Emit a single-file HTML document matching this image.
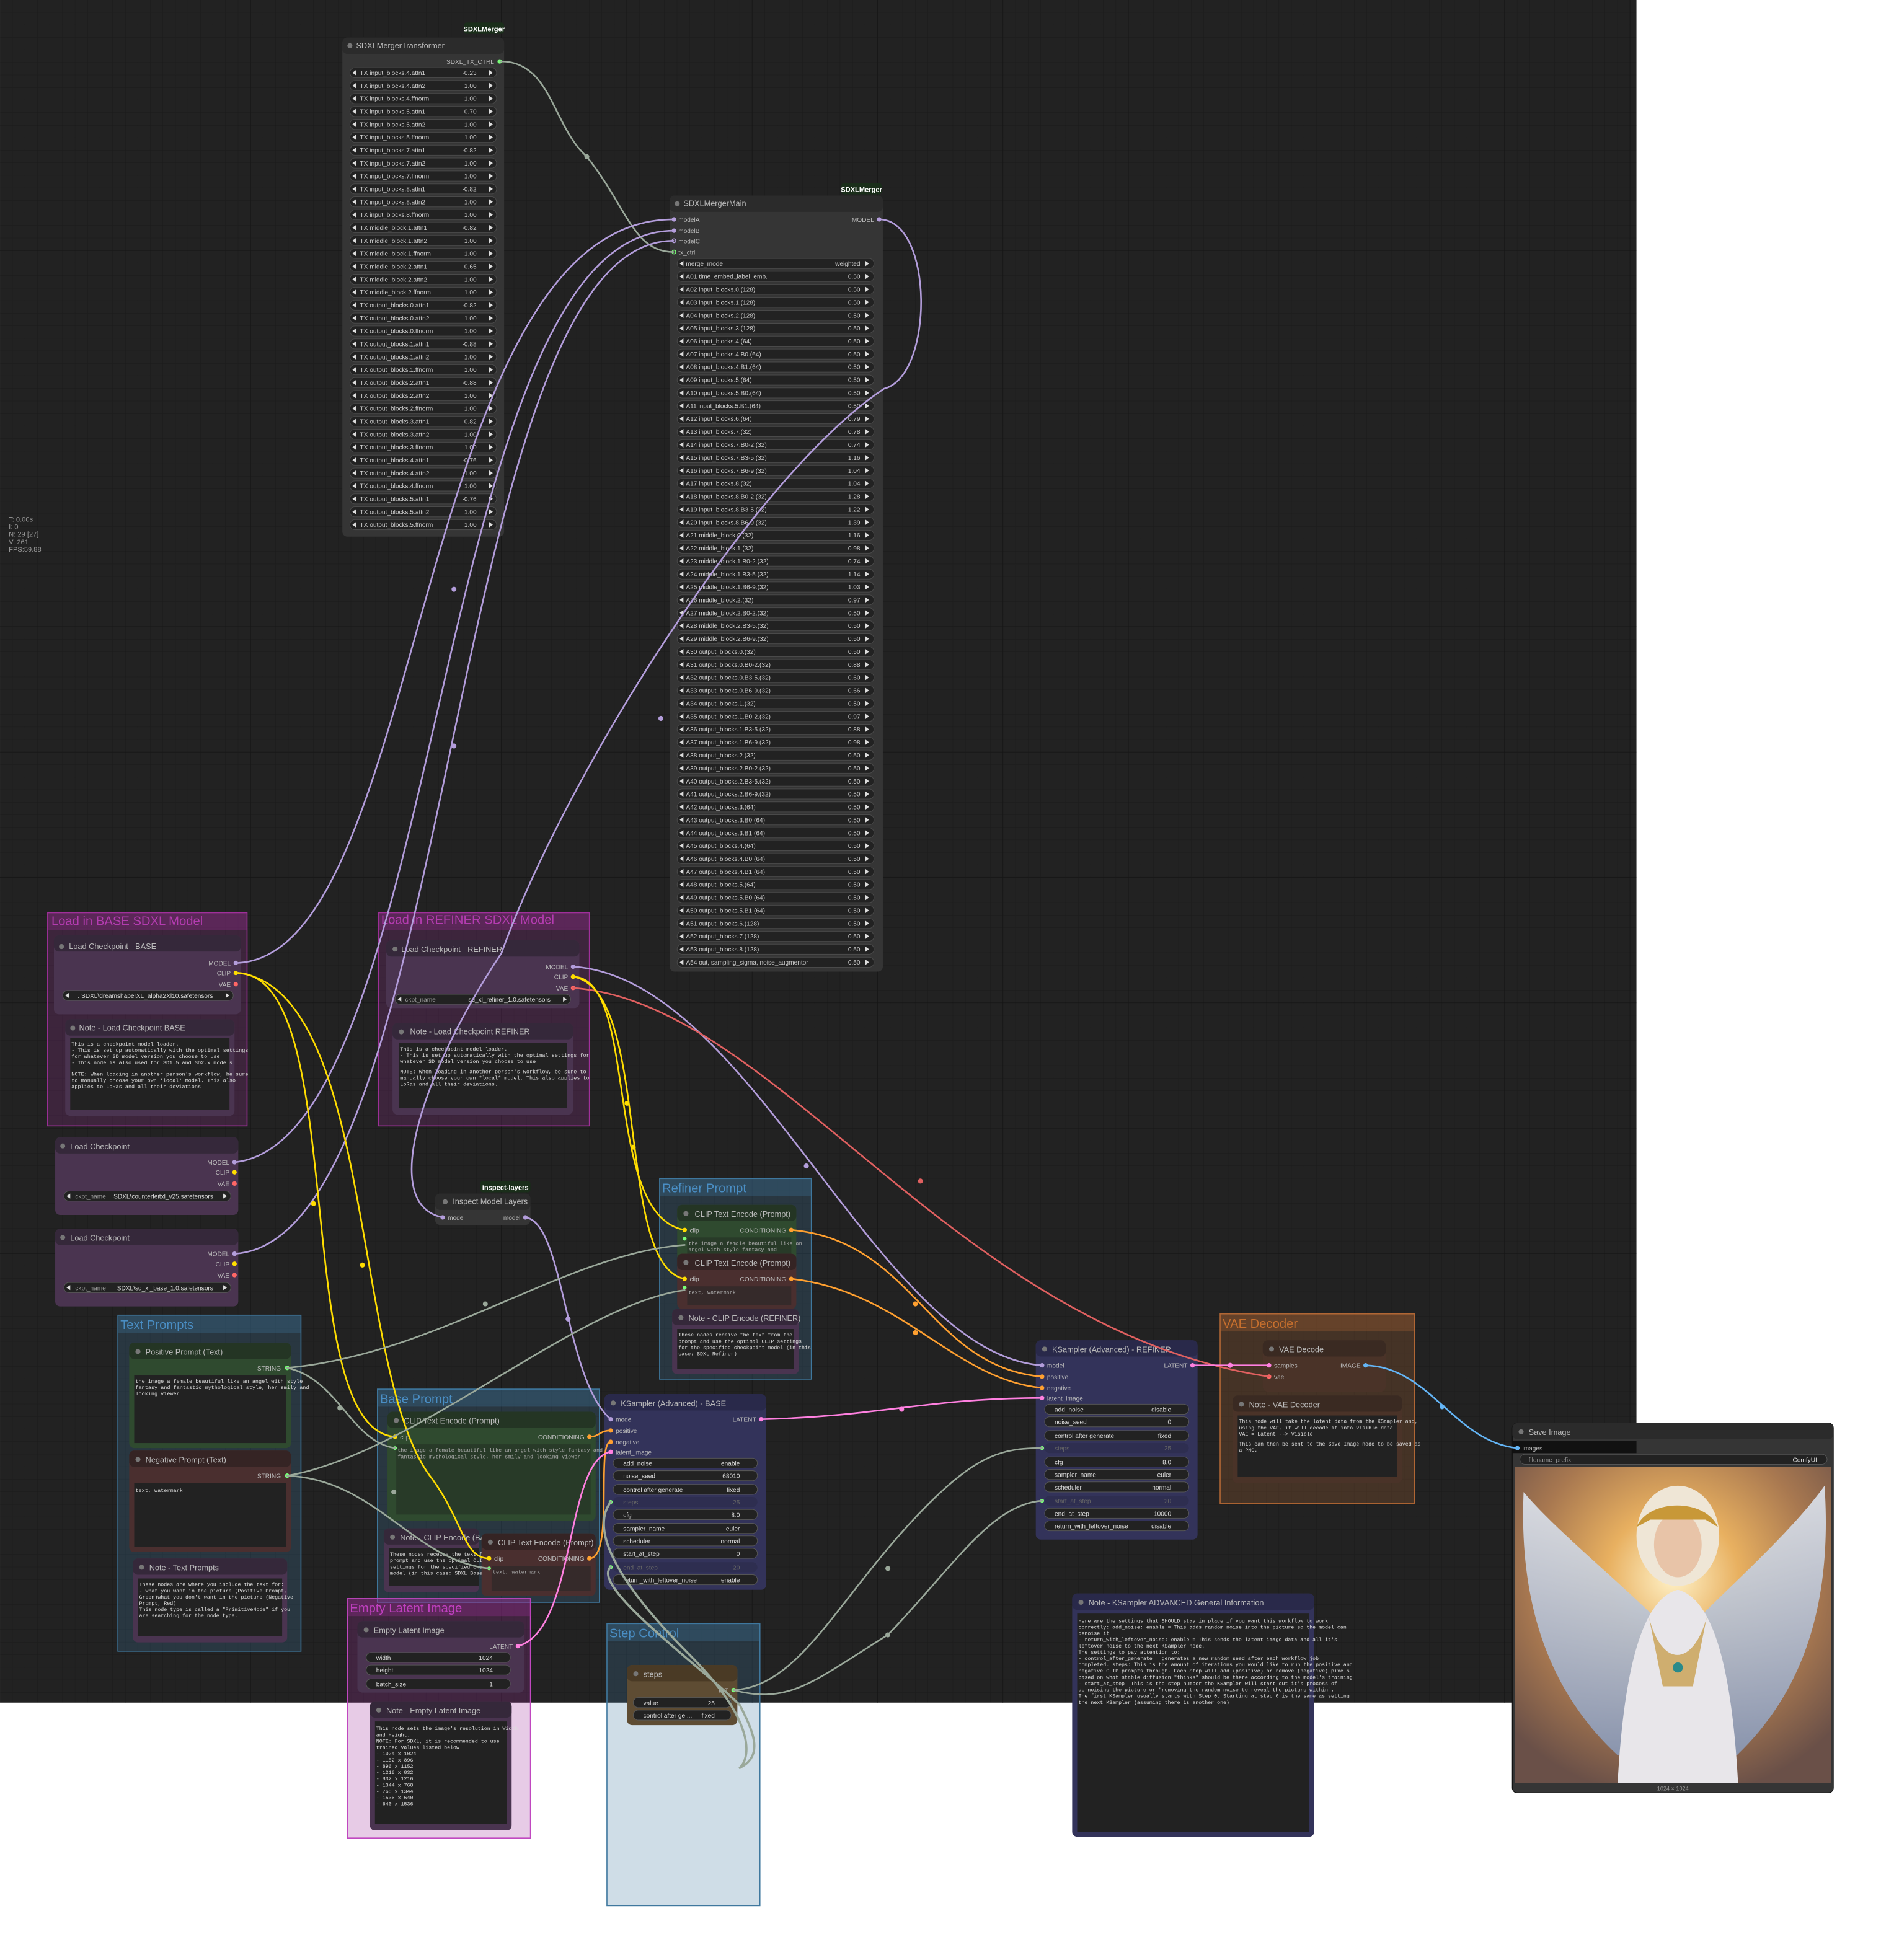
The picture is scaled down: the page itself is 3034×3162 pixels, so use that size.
<!DOCTYPE html>
<html><head><meta charset="utf-8"><style>
html,body{margin:0;padding:0;background:#fff;width:3034px;height:3162px;overflow:hidden}
svg{display:block}
.t{font-family:"Liberation Sans",sans-serif}
.m{font-family:"Liberation Mono",monospace}
</style></head><body>
<svg width="3034" height="3162" viewBox="0 0 1500 1563.3" xmlns="http://www.w3.org/2000/svg" class="t">
<defs>
<pattern id="g" width="10" height="10" patternUnits="userSpaceOnUse">
<rect width="10" height="10" fill="#222"/>
<path d="M10 0V10H0" fill="none" stroke="#1b1b1b" stroke-width="0.6"/>
</pattern>
<pattern id="g2" width="100" height="100" patternUnits="userSpaceOnUse">
<path d="M100 0V100H0" fill="none" stroke="#151515" stroke-width="0.8"/>
</pattern>
<g id="tw"><rect x="279" y="-4" width="117" height="8" rx="4" fill="#222" stroke="#4a4a4a" stroke-width="0.5"/><path d="M284 -2.2L281 0 284 2.2Z M390 -2.2L393 0 390 2.2Z" fill="#ddd"/></g>
<g id="mw"><rect x="540" y="-4" width="157" height="8" rx="4" fill="#222" stroke="#4a4a4a" stroke-width="0.5"/><path d="M545 -2.2L542 0 545 2.2Z M690 -2.2L693 0 690 2.2Z" fill="#ddd"/></g>
<radialGradient id="pic" cx="0.5" cy="0.35" r="0.7">
<stop offset="0" stop-color="#fff2c8"/><stop offset="0.3" stop-color="#e8b060"/><stop offset="0.65" stop-color="#a87850"/><stop offset="1" stop-color="#6a5048"/>
</radialGradient>
<linearGradient id="wing" x1="0" y1="0" x2="0" y2="1"><stop offset="0" stop-color="#dfe6f0"/><stop offset="1" stop-color="#8a9ab8"/></linearGradient>
</defs>
<rect x="0" y="0" width="1305" height="1358" fill="url(#g)"/>
<rect x="0" y="0" width="1305" height="1358" fill="url(#g2)"/>

<g font-size="5.5" fill="#999"><text x="7" y="416">T: 0.00s</text><text x="7" y="422">I: 0</text><text x="7" y="428">N: 29 [27]</text><text x="7" y="434">V: 261</text><text x="7" y="440">FPS:59.88</text></g>

<!-- GROUPS -->
<g>
<rect x="38" y="728" width="159" height="170" fill="#a1309b" fill-opacity="0.22" stroke="#a1309b" stroke-width="0.8"/>
<rect x="38" y="728" width="159" height="14" fill="#a1309b" fill-opacity="0.3"/>
<text x="41" y="738" font-size="10" fill="#b43cb0">Load in BASE SDXL Model</text>
<rect x="302" y="728" width="168" height="170" fill="#a1309b" fill-opacity="0.22" stroke="#a1309b" stroke-width="0.8"/>
<rect x="302" y="728" width="168" height="14" fill="#a1309b" fill-opacity="0.3"/>
<text x="304" y="737" font-size="10" fill="#b43cb0">Load in REFINER SDXL Model</text>
<rect x="94" y="1049" width="146" height="268" fill="#3f789e" fill-opacity="0.25" stroke="#3f789e" stroke-width="0.8"/>
<rect x="94" y="1049" width="146" height="14" fill="#3f789e" fill-opacity="0.3"/>
<text x="96" y="1060" font-size="10" fill="#4a8ec4">Text Prompts</text>
<rect x="526" y="940" width="121" height="160" fill="#3f789e" fill-opacity="0.25" stroke="#3f789e" stroke-width="0.8"/>
<rect x="526" y="940" width="121" height="14" fill="#3f789e" fill-opacity="0.3"/>
<text x="528" y="951" font-size="10" fill="#4a8ec4">Refiner Prompt</text>
<rect x="301" y="1108" width="177" height="170" fill="#3f789e" fill-opacity="0.25" stroke="#3f789e" stroke-width="0.8"/>
<rect x="301" y="1108" width="177" height="14" fill="#3f789e" fill-opacity="0.3"/>
<text x="303" y="1119" font-size="10" fill="#4a8ec4">Base Prompt</text>
<rect x="973" y="1048" width="155" height="151" fill="#b06634" fill-opacity="0.25" stroke="#b06634" stroke-width="0.8"/>
<rect x="973" y="1048" width="155" height="14" fill="#b06634" fill-opacity="0.3"/>
<text x="975" y="1059" font-size="10" fill="#c8702e">VAE Decoder</text>
<rect x="277" y="1275" width="146" height="191" fill="#a1309b" fill-opacity="0.25" stroke="#c048c0" stroke-width="0.8"/>
<rect x="277" y="1275" width="146" height="14" fill="#a1309b" fill-opacity="0.3"/>
<text x="279" y="1286" font-size="10" fill="#c040c0">Empty Latent Image</text>
<rect x="484" y="1295" width="122" height="225" fill="#3f789e" fill-opacity="0.25" stroke="#3f789e" stroke-width="0.8"/>
<rect x="484" y="1295" width="122" height="14" fill="#3f789e" fill-opacity="0.3"/>
<text x="486" y="1306" font-size="10" fill="#4a8ec4">Step Control</text>
</g>

<!-- SDXLMergerTransformer -->
<rect x="370" y="18" width="32" height="9" rx="2" fill="#1a2e1a"/><text x="386" y="25" font-size="5.5" fill="#fff" text-anchor="middle" font-weight="bold">SDXLMerger</text>
<rect x="273" y="30" width="129" height="398" rx="4" fill="#353535"/>
<rect x="273" y="30" width="129" height="13" rx="4" fill="#2b2b2b"/>
<circle cx="279" cy="36.5" r="2" fill="#777"/><text x="284" y="38.5" font-size="6.3" fill="#bbb">SDXLMergerTransformer</text>
<text x="394" y="51" font-size="5" fill="#bbb" text-anchor="end">SDXL_TX_CTRL</text><circle cx="398.5" cy="49" r="1.8" fill="#7f7"/>
<g font-size="5" fill="#ccc">
<g transform="translate(0,58)"><use href="#tw"/><text x="287" y="1.8">TX input_blocks.4.attn1</text><text x="380" y="1.8" text-anchor="end">-0.23</text></g>
<g transform="translate(0,68.3)"><use href="#tw"/><text x="287" y="1.8">TX input_blocks.4.attn2</text><text x="380" y="1.8" text-anchor="end">1.00</text></g>
<g transform="translate(0,78.6)"><use href="#tw"/><text x="287" y="1.8">TX input_blocks.4.ffnorm</text><text x="380" y="1.8" text-anchor="end">1.00</text></g>
<g transform="translate(0,88.9)"><use href="#tw"/><text x="287" y="1.8">TX input_blocks.5.attn1</text><text x="380" y="1.8" text-anchor="end">-0.70</text></g>
<g transform="translate(0,99.2)"><use href="#tw"/><text x="287" y="1.8">TX input_blocks.5.attn2</text><text x="380" y="1.8" text-anchor="end">1.00</text></g>
<g transform="translate(0,109.5)"><use href="#tw"/><text x="287" y="1.8">TX input_blocks.5.ffnorm</text><text x="380" y="1.8" text-anchor="end">1.00</text></g>
<g transform="translate(0,119.8)"><use href="#tw"/><text x="287" y="1.8">TX input_blocks.7.attn1</text><text x="380" y="1.8" text-anchor="end">-0.82</text></g>
<g transform="translate(0,130.1)"><use href="#tw"/><text x="287" y="1.8">TX input_blocks.7.attn2</text><text x="380" y="1.8" text-anchor="end">1.00</text></g>
<g transform="translate(0,140.4)"><use href="#tw"/><text x="287" y="1.8">TX input_blocks.7.ffnorm</text><text x="380" y="1.8" text-anchor="end">1.00</text></g>
<g transform="translate(0,150.7)"><use href="#tw"/><text x="287" y="1.8">TX input_blocks.8.attn1</text><text x="380" y="1.8" text-anchor="end">-0.82</text></g>
<g transform="translate(0,161)"><use href="#tw"/><text x="287" y="1.8">TX input_blocks.8.attn2</text><text x="380" y="1.8" text-anchor="end">1.00</text></g>
<g transform="translate(0,171.3)"><use href="#tw"/><text x="287" y="1.8">TX input_blocks.8.ffnorm</text><text x="380" y="1.8" text-anchor="end">1.00</text></g>
<g transform="translate(0,181.6)"><use href="#tw"/><text x="287" y="1.8">TX middle_block.1.attn1</text><text x="380" y="1.8" text-anchor="end">-0.82</text></g>
<g transform="translate(0,191.9)"><use href="#tw"/><text x="287" y="1.8">TX middle_block.1.attn2</text><text x="380" y="1.8" text-anchor="end">1.00</text></g>
<g transform="translate(0,202.2)"><use href="#tw"/><text x="287" y="1.8">TX middle_block.1.ffnorm</text><text x="380" y="1.8" text-anchor="end">1.00</text></g>
<g transform="translate(0,212.5)"><use href="#tw"/><text x="287" y="1.8">TX middle_block.2.attn1</text><text x="380" y="1.8" text-anchor="end">-0.65</text></g>
<g transform="translate(0,222.8)"><use href="#tw"/><text x="287" y="1.8">TX middle_block.2.attn2</text><text x="380" y="1.8" text-anchor="end">1.00</text></g>
<g transform="translate(0,233.1)"><use href="#tw"/><text x="287" y="1.8">TX middle_block.2.ffnorm</text><text x="380" y="1.8" text-anchor="end">1.00</text></g>
<g transform="translate(0,243.4)"><use href="#tw"/><text x="287" y="1.8">TX output_blocks.0.attn1</text><text x="380" y="1.8" text-anchor="end">-0.82</text></g>
<g transform="translate(0,253.7)"><use href="#tw"/><text x="287" y="1.8">TX output_blocks.0.attn2</text><text x="380" y="1.8" text-anchor="end">1.00</text></g>
<g transform="translate(0,264)"><use href="#tw"/><text x="287" y="1.8">TX output_blocks.0.ffnorm</text><text x="380" y="1.8" text-anchor="end">1.00</text></g>
<g transform="translate(0,274.3)"><use href="#tw"/><text x="287" y="1.8">TX output_blocks.1.attn1</text><text x="380" y="1.8" text-anchor="end">-0.88</text></g>
<g transform="translate(0,284.6)"><use href="#tw"/><text x="287" y="1.8">TX output_blocks.1.attn2</text><text x="380" y="1.8" text-anchor="end">1.00</text></g>
<g transform="translate(0,294.9)"><use href="#tw"/><text x="287" y="1.8">TX output_blocks.1.ffnorm</text><text x="380" y="1.8" text-anchor="end">1.00</text></g>
<g transform="translate(0,305.2)"><use href="#tw"/><text x="287" y="1.8">TX output_blocks.2.attn1</text><text x="380" y="1.8" text-anchor="end">-0.88</text></g>
<g transform="translate(0,315.5)"><use href="#tw"/><text x="287" y="1.8">TX output_blocks.2.attn2</text><text x="380" y="1.8" text-anchor="end">1.00</text></g>
<g transform="translate(0,325.8)"><use href="#tw"/><text x="287" y="1.8">TX output_blocks.2.ffnorm</text><text x="380" y="1.8" text-anchor="end">1.00</text></g>
<g transform="translate(0,336.1)"><use href="#tw"/><text x="287" y="1.8">TX output_blocks.3.attn1</text><text x="380" y="1.8" text-anchor="end">-0.82</text></g>
<g transform="translate(0,346.4)"><use href="#tw"/><text x="287" y="1.8">TX output_blocks.3.attn2</text><text x="380" y="1.8" text-anchor="end">1.00</text></g>
<g transform="translate(0,356.7)"><use href="#tw"/><text x="287" y="1.8">TX output_blocks.3.ffnorm</text><text x="380" y="1.8" text-anchor="end">1.00</text></g>
<g transform="translate(0,367)"><use href="#tw"/><text x="287" y="1.8">TX output_blocks.4.attn1</text><text x="380" y="1.8" text-anchor="end">-0.76</text></g>
<g transform="translate(0,377.3)"><use href="#tw"/><text x="287" y="1.8">TX output_blocks.4.attn2</text><text x="380" y="1.8" text-anchor="end">1.00</text></g>
<g transform="translate(0,387.6)"><use href="#tw"/><text x="287" y="1.8">TX output_blocks.4.ffnorm</text><text x="380" y="1.8" text-anchor="end">1.00</text></g>
<g transform="translate(0,397.9)"><use href="#tw"/><text x="287" y="1.8">TX output_blocks.5.attn1</text><text x="380" y="1.8" text-anchor="end">-0.76</text></g>
<g transform="translate(0,408.2)"><use href="#tw"/><text x="287" y="1.8">TX output_blocks.5.attn2</text><text x="380" y="1.8" text-anchor="end">1.00</text></g>
<g transform="translate(0,418.5)"><use href="#tw"/><text x="287" y="1.8">TX output_blocks.5.ffnorm</text><text x="380" y="1.8" text-anchor="end">1.00</text></g>
</g>

<!-- SDXLMergerMain -->
<rect x="671" y="146" width="32" height="9" rx="2" fill="#1a2e1a"/><text x="687" y="153" font-size="5.5" fill="#fff" text-anchor="middle" font-weight="bold">SDXLMerger</text>
<rect x="534" y="156" width="170" height="619" rx="4" fill="#353535"/>
<rect x="534" y="156" width="170" height="13" rx="4" fill="#2b2b2b"/>
<circle cx="540" cy="162.5" r="2" fill="#777"/><text x="545" y="164.5" font-size="6.3" fill="#bbb">SDXLMergerMain</text>
<g font-size="5" fill="#bbb">
<circle cx="537.5" cy="175" r="1.8" fill="#b39ddb"/><text x="541" y="177">modelA</text>
<circle cx="537.5" cy="184" r="1.8" fill="#b39ddb"/><text x="541" y="186">modelB</text>
<circle cx="537.5" cy="192" r="1.5" fill="none" stroke="#b39ddb" stroke-width="0.8"/><text x="541" y="194">modelC</text>
<circle cx="537.5" cy="201" r="1.5" fill="none" stroke="#7f7" stroke-width="0.8"/><text x="541" y="203">tx_ctrl</text>
<text x="697" y="177" text-anchor="end">MODEL</text><circle cx="701" cy="175" r="1.8" fill="#b39ddb"/>
</g>
<g font-size="5" fill="#ccc">
<g transform="translate(0,210.2)"><use href="#mw"/><text x="547" y="1.8">merge_mode</text><text x="686" y="1.8" text-anchor="end">weighted</text></g>
<g transform="translate(0,220.5)"><use href="#mw"/><text x="547" y="1.8">A01 time_embed.,label_emb.</text><text x="686" y="1.8" text-anchor="end">0.50</text></g>
<g transform="translate(0,230.8)"><use href="#mw"/><text x="547" y="1.8">A02 input_blocks.0.(128)</text><text x="686" y="1.8" text-anchor="end">0.50</text></g>
<g transform="translate(0,241.1)"><use href="#mw"/><text x="547" y="1.8">A03 input_blocks.1.(128)</text><text x="686" y="1.8" text-anchor="end">0.50</text></g>
<g transform="translate(0,251.5)"><use href="#mw"/><text x="547" y="1.8">A04 input_blocks.2.(128)</text><text x="686" y="1.8" text-anchor="end">0.50</text></g>
<g transform="translate(0,261.8)"><use href="#mw"/><text x="547" y="1.8">A05 input_blocks.3.(128)</text><text x="686" y="1.8" text-anchor="end">0.50</text></g>
<g transform="translate(0,272.1)"><use href="#mw"/><text x="547" y="1.8">A06 input_blocks.4.(64)</text><text x="686" y="1.8" text-anchor="end">0.50</text></g>
<g transform="translate(0,282.4)"><use href="#mw"/><text x="547" y="1.8">A07 input_blocks.4.B0.(64)</text><text x="686" y="1.8" text-anchor="end">0.50</text></g>
<g transform="translate(0,292.7)"><use href="#mw"/><text x="547" y="1.8">A08 input_blocks.4.B1.(64)</text><text x="686" y="1.8" text-anchor="end">0.50</text></g>
<g transform="translate(0,303.1)"><use href="#mw"/><text x="547" y="1.8">A09 input_blocks.5.(64)</text><text x="686" y="1.8" text-anchor="end">0.50</text></g>
<g transform="translate(0,313.4)"><use href="#mw"/><text x="547" y="1.8">A10 input_blocks.5.B0.(64)</text><text x="686" y="1.8" text-anchor="end">0.50</text></g>
<g transform="translate(0,323.7)"><use href="#mw"/><text x="547" y="1.8">A11 input_blocks.5.B1.(64)</text><text x="686" y="1.8" text-anchor="end">0.50</text></g>
<g transform="translate(0,334)"><use href="#mw"/><text x="547" y="1.8">A12 input_blocks.6.(64)</text><text x="686" y="1.8" text-anchor="end">0.79</text></g>
<g transform="translate(0,344.3)"><use href="#mw"/><text x="547" y="1.8">A13 input_blocks.7.(32)</text><text x="686" y="1.8" text-anchor="end">0.78</text></g>
<g transform="translate(0,354.7)"><use href="#mw"/><text x="547" y="1.8">A14 input_blocks.7.B0-2.(32)</text><text x="686" y="1.8" text-anchor="end">0.74</text></g>
<g transform="translate(0,365)"><use href="#mw"/><text x="547" y="1.8">A15 input_blocks.7.B3-5.(32)</text><text x="686" y="1.8" text-anchor="end">1.16</text></g>
<g transform="translate(0,375.3)"><use href="#mw"/><text x="547" y="1.8">A16 input_blocks.7.B6-9.(32)</text><text x="686" y="1.8" text-anchor="end">1.04</text></g>
<g transform="translate(0,385.6)"><use href="#mw"/><text x="547" y="1.8">A17 input_blocks.8.(32)</text><text x="686" y="1.8" text-anchor="end">1.04</text></g>
<g transform="translate(0,395.9)"><use href="#mw"/><text x="547" y="1.8">A18 input_blocks.8.B0-2.(32)</text><text x="686" y="1.8" text-anchor="end">1.28</text></g>
<g transform="translate(0,406.3)"><use href="#mw"/><text x="547" y="1.8">A19 input_blocks.8.B3-5.(32)</text><text x="686" y="1.8" text-anchor="end">1.22</text></g>
<g transform="translate(0,416.6)"><use href="#mw"/><text x="547" y="1.8">A20 input_blocks.8.B6-9.(32)</text><text x="686" y="1.8" text-anchor="end">1.39</text></g>
<g transform="translate(0,426.9)"><use href="#mw"/><text x="547" y="1.8">A21 middle_block.0.(32)</text><text x="686" y="1.8" text-anchor="end">1.16</text></g>
<g transform="translate(0,437.2)"><use href="#mw"/><text x="547" y="1.8">A22 middle_block.1.(32)</text><text x="686" y="1.8" text-anchor="end">0.98</text></g>
<g transform="translate(0,447.5)"><use href="#mw"/><text x="547" y="1.8">A23 middle_block.1.B0-2.(32)</text><text x="686" y="1.8" text-anchor="end">0.74</text></g>
<g transform="translate(0,457.9)"><use href="#mw"/><text x="547" y="1.8">A24 middle_block.1.B3-5.(32)</text><text x="686" y="1.8" text-anchor="end">1.14</text></g>
<g transform="translate(0,468.2)"><use href="#mw"/><text x="547" y="1.8">A25 middle_block.1.B6-9.(32)</text><text x="686" y="1.8" text-anchor="end">1.03</text></g>
<g transform="translate(0,478.5)"><use href="#mw"/><text x="547" y="1.8">A26 middle_block.2.(32)</text><text x="686" y="1.8" text-anchor="end">0.97</text></g>
<g transform="translate(0,488.8)"><use href="#mw"/><text x="547" y="1.8">A27 middle_block.2.B0-2.(32)</text><text x="686" y="1.8" text-anchor="end">0.50</text></g>
<g transform="translate(0,499.1)"><use href="#mw"/><text x="547" y="1.8">A28 middle_block.2.B3-5.(32)</text><text x="686" y="1.8" text-anchor="end">0.50</text></g>
<g transform="translate(0,509.5)"><use href="#mw"/><text x="547" y="1.8">A29 middle_block.2.B6-9.(32)</text><text x="686" y="1.8" text-anchor="end">0.50</text></g>
<g transform="translate(0,519.8)"><use href="#mw"/><text x="547" y="1.8">A30 output_blocks.0.(32)</text><text x="686" y="1.8" text-anchor="end">0.50</text></g>
<g transform="translate(0,530.1)"><use href="#mw"/><text x="547" y="1.8">A31 output_blocks.0.B0-2.(32)</text><text x="686" y="1.8" text-anchor="end">0.88</text></g>
<g transform="translate(0,540.4)"><use href="#mw"/><text x="547" y="1.8">A32 output_blocks.0.B3-5.(32)</text><text x="686" y="1.8" text-anchor="end">0.60</text></g>
<g transform="translate(0,550.7)"><use href="#mw"/><text x="547" y="1.8">A33 output_blocks.0.B6-9.(32)</text><text x="686" y="1.8" text-anchor="end">0.66</text></g>
<g transform="translate(0,561.1)"><use href="#mw"/><text x="547" y="1.8">A34 output_blocks.1.(32)</text><text x="686" y="1.8" text-anchor="end">0.50</text></g>
<g transform="translate(0,571.4)"><use href="#mw"/><text x="547" y="1.8">A35 output_blocks.1.B0-2.(32)</text><text x="686" y="1.8" text-anchor="end">0.97</text></g>
<g transform="translate(0,581.7)"><use href="#mw"/><text x="547" y="1.8">A36 output_blocks.1.B3-5.(32)</text><text x="686" y="1.8" text-anchor="end">0.88</text></g>
<g transform="translate(0,592)"><use href="#mw"/><text x="547" y="1.8">A37 output_blocks.1.B6-9.(32)</text><text x="686" y="1.8" text-anchor="end">0.98</text></g>
<g transform="translate(0,602.3)"><use href="#mw"/><text x="547" y="1.8">A38 output_blocks.2.(32)</text><text x="686" y="1.8" text-anchor="end">0.50</text></g>
<g transform="translate(0,612.7)"><use href="#mw"/><text x="547" y="1.8">A39 output_blocks.2.B0-2.(32)</text><text x="686" y="1.8" text-anchor="end">0.50</text></g>
<g transform="translate(0,623)"><use href="#mw"/><text x="547" y="1.8">A40 output_blocks.2.B3-5.(32)</text><text x="686" y="1.8" text-anchor="end">0.50</text></g>
<g transform="translate(0,633.3)"><use href="#mw"/><text x="547" y="1.8">A41 output_blocks.2.B6-9.(32)</text><text x="686" y="1.8" text-anchor="end">0.50</text></g>
<g transform="translate(0,643.6)"><use href="#mw"/><text x="547" y="1.8">A42 output_blocks.3.(64)</text><text x="686" y="1.8" text-anchor="end">0.50</text></g>
<g transform="translate(0,653.9)"><use href="#mw"/><text x="547" y="1.8">A43 output_blocks.3.B0.(64)</text><text x="686" y="1.8" text-anchor="end">0.50</text></g>
<g transform="translate(0,664.3)"><use href="#mw"/><text x="547" y="1.8">A44 output_blocks.3.B1.(64)</text><text x="686" y="1.8" text-anchor="end">0.50</text></g>
<g transform="translate(0,674.6)"><use href="#mw"/><text x="547" y="1.8">A45 output_blocks.4.(64)</text><text x="686" y="1.8" text-anchor="end">0.50</text></g>
<g transform="translate(0,684.9)"><use href="#mw"/><text x="547" y="1.8">A46 output_blocks.4.B0.(64)</text><text x="686" y="1.8" text-anchor="end">0.50</text></g>
<g transform="translate(0,695.2)"><use href="#mw"/><text x="547" y="1.8">A47 output_blocks.4.B1.(64)</text><text x="686" y="1.8" text-anchor="end">0.50</text></g>
<g transform="translate(0,705.5)"><use href="#mw"/><text x="547" y="1.8">A48 output_blocks.5.(64)</text><text x="686" y="1.8" text-anchor="end">0.50</text></g>
<g transform="translate(0,715.9)"><use href="#mw"/><text x="547" y="1.8">A49 output_blocks.5.B0.(64)</text><text x="686" y="1.8" text-anchor="end">0.50</text></g>
<g transform="translate(0,726.2)"><use href="#mw"/><text x="547" y="1.8">A50 output_blocks.5.B1.(64)</text><text x="686" y="1.8" text-anchor="end">0.50</text></g>
<g transform="translate(0,736.5)"><use href="#mw"/><text x="547" y="1.8">A51 output_blocks.6.(128)</text><text x="686" y="1.8" text-anchor="end">0.50</text></g>
<g transform="translate(0,746.8)"><use href="#mw"/><text x="547" y="1.8">A52 output_blocks.7.(128)</text><text x="686" y="1.8" text-anchor="end">0.50</text></g>
<g transform="translate(0,757.1)"><use href="#mw"/><text x="547" y="1.8">A53 output_blocks.8.(128)</text><text x="686" y="1.8" text-anchor="end">0.50</text></g>
<g transform="translate(0,767.5)"><use href="#mw"/><text x="547" y="1.8">A54 out, sampling_sigma, noise_augmentor</text><text x="686" y="1.8" text-anchor="end">0.50</text></g>
</g>

<!-- Load checkpoint nodes -->
<g font-size="5" fill="#bbb">
<rect x="43" y="746" width="149" height="63" rx="4" fill="#4a3450"/><rect x="43" y="746" width="149" height="13" rx="4" fill="#35283a"/>
<circle cx="49" cy="755" r="2" fill="#777"/><text x="55" y="757" font-size="6.3">Load Checkpoint - BASE</text>
<text x="184" y="770" text-anchor="end">MODEL</text><circle cx="188" cy="768" r="1.8" fill="#b39ddb"/>
<text x="184" y="778" text-anchor="end">CLIP</text><circle cx="188" cy="776" r="1.8" fill="#fd0"/>
<text x="184" y="787" text-anchor="end">VAE</text><circle cx="188" cy="785" r="1.8" fill="#f66"/>
<rect x="50" y="790" width="136" height="8" rx="4" fill="#222" stroke="#555" stroke-width="0.5"/><path d="M55 792L52 794 55 796ZM180 792L183 794 180 796Z" fill="#ddd"/><text x="62" y="796" fill="#ddd">. SDXL\dreamshaperXL_alpha2Xl10.safetensors</text>

<rect x="52" y="813" width="135" height="77" rx="4" fill="#4a3450"/><rect x="52" y="813" width="135" height="13" rx="4" fill="#35283a"/>
<circle cx="58" cy="820" r="2" fill="#777"/><text x="63" y="822" font-size="6.3">Note - Load Checkpoint BASE</text>
<rect x="56" y="828" width="127" height="57" fill="#222"/>
<g class="m" font-size="4.2" fill="#ddd"><text x="57" y="834">This is a checkpoint model loader.</text><text x="57" y="839"> - This is set up automatically with the optimal settings</text><text x="57" y="844">for whatever SD model version you choose to use</text><text x="57" y="849"> - This node is also used for SD1.5 and SD2.x models</text><text x="57" y="858">NOTE: When loading in another person's workflow, be sure</text><text x="57" y="863">to manually choose your own *local* model. This also</text><text x="57" y="868">applies to LoRas and all their deviations</text></g>

<rect x="308" y="750" width="154" height="54" rx="4" fill="#4a3450"/><rect x="308" y="750" width="154" height="13" rx="4" fill="#35283a"/>
<circle cx="315" cy="757" r="2" fill="#777"/><text x="320" y="759.5" font-size="6.3">Load Checkpoint - REFINER</text>
<text x="453" y="773" text-anchor="end">MODEL</text><circle cx="457" cy="771" r="1.8" fill="#b39ddb"/>
<text x="453" y="781" text-anchor="end">CLIP</text><circle cx="457" cy="779" r="1.8" fill="#fd0"/>
<text x="453" y="790" text-anchor="end">VAE</text><circle cx="457" cy="788" r="1.8" fill="#f66"/>
<rect x="315" y="793" width="140" height="8" rx="4" fill="#222" stroke="#555" stroke-width="0.5"/><path d="M320 795L317 797 320 799ZM449 795L452 797 449 799Z" fill="#ddd"/><text x="323" y="799" fill="#999">ckpt_name</text><text x="439" y="799" fill="#ddd" text-anchor="end">sd_xl_refiner_1.0.safetensors</text>

<rect x="313" y="816" width="144" height="73" rx="4" fill="#4a3450"/><rect x="313" y="816" width="144" height="13" rx="4" fill="#35283a"/>
<circle cx="320" cy="823" r="2" fill="#777"/><text x="327" y="825" font-size="6.3">Note - Load Checkpoint REFINER</text>
<rect x="318" y="832" width="134" height="52" fill="#222"/>
<g class="m" font-size="4.2" fill="#ddd"><text x="319" y="838">This is a checkpoint model loader.</text><text x="319" y="843"> - This is set up automatically with the optimal settings for</text><text x="319" y="848">whatever SD model version you choose to use</text><text x="319" y="856">NOTE: When loading in another person's workflow, be sure to</text><text x="319" y="861">manually choose your own *local* model. This also applies to</text><text x="319" y="866">LoRas and all their deviations.</text></g>

<rect x="44" y="907" width="146" height="62" rx="4" fill="#4a3450"/><rect x="44" y="907" width="146" height="13" rx="4" fill="#35283a"/>
<circle cx="50" cy="914" r="2" fill="#777"/><text x="56" y="916.5" font-size="6.3">Load Checkpoint</text>
<text x="183" y="929" text-anchor="end">MODEL</text><circle cx="187" cy="927" r="1.8" fill="#b39ddb"/>
<text x="183" y="937" text-anchor="end">CLIP</text><circle cx="187" cy="935" r="1.8" fill="#fd0"/>
<text x="183" y="946" text-anchor="end">VAE</text><circle cx="187" cy="944" r="1.8" fill="#f66"/>
<rect x="51" y="950" width="133" height="8" rx="4" fill="#222" stroke="#555" stroke-width="0.5"/><path d="M56 952L53 954 56 956ZM178 952L181 954 178 956Z" fill="#ddd"/><text x="60" y="956" fill="#999">ckpt_name</text><text x="170" y="956" fill="#ddd" text-anchor="end">SDXL\counterfeitxl_v25.safetensors</text>

<rect x="44" y="980" width="146" height="62" rx="4" fill="#4a3450"/><rect x="44" y="980" width="146" height="13" rx="4" fill="#35283a"/>
<circle cx="50" cy="987" r="2" fill="#777"/><text x="56" y="989.5" font-size="6.3">Load Checkpoint</text>
<text x="183" y="1002" text-anchor="end">MODEL</text><circle cx="187" cy="1000" r="1.8" fill="#b39ddb"/>
<text x="183" y="1010" text-anchor="end">CLIP</text><circle cx="187" cy="1008" r="1.8" fill="#fd0"/>
<text x="183" y="1019" text-anchor="end">VAE</text><circle cx="187" cy="1017" r="1.8" fill="#f66"/>
<rect x="51" y="1023" width="133" height="8" rx="4" fill="#222" stroke="#555" stroke-width="0.5"/><path d="M56 1025L53 1027 56 1029ZM178 1025L181 1027 178 1029Z" fill="#ddd"/><text x="60" y="1029" fill="#999">ckpt_name</text><text x="170" y="1029" fill="#ddd" text-anchor="end">SDXL\sd_xl_base_1.0.safetensors</text>

<!-- Inspect -->
<rect x="383" y="942" width="40" height="9" rx="2" fill="#1a2e1a"/><text x="403" y="949" font-size="5.5" fill="#fff" text-anchor="middle" font-weight="bold">inspect-layers</text>
<rect x="347" y="952" width="76" height="25" rx="4" fill="#353535"/><rect x="347" y="952" width="76" height="13" rx="4" fill="#2b2b2b"/>
<circle cx="355" cy="958.5" r="2" fill="#777"/><text x="361" y="960.5" font-size="6.3">Inspect Model Layers</text>
<circle cx="353" cy="971" r="1.8" fill="#b39ddb"/><text x="357" y="973">model</text><text x="415" y="973" text-anchor="end">model</text><circle cx="419" cy="971" r="1.8" fill="#b39ddb"/>
</g>

<!-- Text prompts nodes -->
<g font-size="5" fill="#bbb">
<rect x="103" y="1071" width="129" height="84" rx="4" fill="#2f4a2f"/><rect x="103" y="1071" width="129" height="13" rx="4" fill="#243524"/>
<circle cx="110" cy="1078" r="2" fill="#777"/><text x="116" y="1080.5" font-size="6.3">Positive Prompt (Text)</text>
<text x="224" y="1093" text-anchor="end">STRING</text><circle cx="229" cy="1091" r="1.8" fill="#7f7"/>
<rect x="107" y="1097" width="121" height="54" fill="#222"/>
<g class="m" font-size="4.2" fill="#ddd"><text x="108" y="1103">the image a female beautiful like an angel with style</text><text x="108" y="1108">fantasy and fantastic mythological style, her smily and</text><text x="108" y="1113">looking viewer</text></g>
<rect x="103" y="1157" width="129" height="81" rx="4" fill="#4a2f2f"/><rect x="103" y="1157" width="129" height="13" rx="4" fill="#352424"/>
<circle cx="110" cy="1164" r="2" fill="#777"/><text x="116" y="1166.5" font-size="6.3">Negative Prompt (Text)</text>
<text x="224" y="1179" text-anchor="end">STRING</text><circle cx="229" cy="1177" r="1.8" fill="#7f7"/>
<rect x="107" y="1183" width="121" height="51" fill="#222"/>
<text x="108" y="1190" class="m" font-size="4.2" fill="#ddd">text, watermark</text>
<rect x="106" y="1243" width="123" height="67" rx="4" fill="#4a3450"/><rect x="106" y="1243" width="123" height="13" rx="4" fill="#35283a"/>
<circle cx="113" cy="1250" r="2" fill="#777"/><text x="119" y="1252.5" font-size="6.3">Note - Text Prompts</text>
<rect x="110" y="1259" width="115" height="46" fill="#222"/>
<g class="m" font-size="4.1" fill="#ddd"><text x="111" y="1265">These nodes are where you include the text for:</text><text x="111" y="1270"> - what you want in the picture (Positive Prompt,</text><text x="111" y="1275">Green)what you don't want in the picture (Negative</text><text x="111" y="1280">Prompt, Red)</text><text x="111" y="1285">This node type is called a "PrimitiveNode" if you</text><text x="111" y="1290">are searching for the node type.</text></g>
</g>

<!-- Refiner prompt nodes -->
<g font-size="5" fill="#bbb">
<rect x="540" y="961" width="95" height="45" rx="4" fill="#2f4a2f"/><rect x="540" y="961" width="95" height="13" rx="4" fill="#243524"/>
<circle cx="547" cy="968" r="2" fill="#777"/><text x="554" y="970.5" font-size="6.3">CLIP Text Encode (Prompt)</text>
<circle cx="546" cy="981" r="1.8" fill="#fd0"/><text x="550" y="983">clip</text><text x="627" y="983" text-anchor="end">CONDITIONING</text><circle cx="631" cy="981" r="1.8" fill="#ffa030"/>
<rect x="548" y="987" width="83" height="15" fill="#283a28"/><circle cx="546" cy="988" r="1.5" fill="#7f7"/>
<g class="m" font-size="4.2" fill="#aaa"><text x="549" y="993">the image a female beautiful like an</text><text x="549" y="998">angel with style fantasy and</text></g>
<rect x="540" y="1000" width="95" height="44" rx="4" fill="#4a2f2f"/><rect x="540" y="1000" width="95" height="13" rx="4" fill="#352424"/>
<circle cx="547" cy="1007" r="2" fill="#777"/><text x="554" y="1009.5" font-size="6.3">CLIP Text Encode (Prompt)</text>
<circle cx="546" cy="1020" r="1.8" fill="#fd0"/><text x="550" y="1022">clip</text><text x="627" y="1022" text-anchor="end">CONDITIONING</text><circle cx="631" cy="1020" r="1.8" fill="#ffa030"/>
<rect x="548" y="1026" width="83" height="15" fill="#352a2a"/><circle cx="546" cy="1027" r="1.5" fill="#7f7"/>
<text x="549" y="1032" class="m" font-size="4.2" fill="#aaa">text, watermark</text>
<rect x="536" y="1044" width="101" height="52" rx="4" fill="#4a3450"/><rect x="536" y="1044" width="101" height="13" rx="4" fill="#35283a"/>
<circle cx="543" cy="1051" r="2" fill="#777"/><text x="549" y="1053.5" font-size="6.3">Note - CLIP Encode (REFINER)</text>
<rect x="540" y="1060" width="93" height="32" fill="#222"/>
<g class="m" font-size="4.1" fill="#ddd"><text x="541" y="1066">These nodes receive the text from the</text><text x="541" y="1071">prompt and use the optimal CLIP settings</text><text x="541" y="1076">for the specified checkpoint model (in this</text><text x="541" y="1081">case: SDXL Refiner)</text></g>
</g>

<!-- Base prompt nodes -->
<g font-size="5" fill="#bbb">
<rect x="309" y="1126" width="166" height="87" rx="4" fill="#2f4a2f"/><rect x="309" y="1126" width="166" height="13" rx="4" fill="#243524"/>
<circle cx="316" cy="1133" r="2" fill="#777"/><text x="322" y="1135.5" font-size="6.3">CLIP Text Encode (Prompt)</text>
<circle cx="315" cy="1146" r="1.8" fill="#fd0"/><text x="319" y="1148">clip</text><text x="466" y="1148" text-anchor="end">CONDITIONING</text><circle cx="470" cy="1146" r="1.8" fill="#ffa030"/>
<rect x="316" y="1152" width="155" height="56" fill="#283a28"/><circle cx="315" cy="1155" r="1.5" fill="#7f7"/>
<g class="m" font-size="4.2" fill="#aaa"><text x="317" y="1158">the image a female beautiful like an angel with style fantasy and</text><text x="317" y="1163">fantastic mythological style, her smily and looking viewer</text></g>
<rect x="306" y="1219" width="76" height="51" rx="4" fill="#4a3450"/><rect x="306" y="1219" width="76" height="13" rx="4" fill="#35283a"/>
<circle cx="313" cy="1226" r="2" fill="#777"/><text x="319" y="1228.5" font-size="6.3">Note - CLIP Encode (BA</text>
<rect x="310" y="1235" width="72" height="30" fill="#222"/>
<g class="m" font-size="4.1" fill="#ddd"><text x="311" y="1241">These nodes receive the text from</text><text x="311" y="1246">prompt and use the optimal CLIP</text><text x="311" y="1251">settings for the specified checkp</text><text x="311" y="1256">model (in this case: SDXL Base)</text></g>
<rect x="384" y="1223" width="91" height="50" rx="4" fill="#4a2f2f"/><rect x="384" y="1223" width="91" height="13" rx="4" fill="#352424"/>
<circle cx="391" cy="1230" r="2" fill="#777"/><text x="397" y="1232.5" font-size="6.3">CLIP Text Encode (Prompt)</text>
<circle cx="390" cy="1243" r="1.8" fill="#fd0"/><text x="394" y="1245">clip</text><text x="466" y="1245" text-anchor="end">CONDITIONING</text><circle cx="470" cy="1243" r="1.8" fill="#ffa030"/>
<rect x="392" y="1249" width="79" height="20" fill="#352a2a"/><circle cx="390" cy="1251" r="1.5" fill="#7f7"/>
<text x="393" y="1255" class="m" font-size="4.2" fill="#aaa">text, watermark</text>
</g>

<!-- KSampler BASE -->
<g font-size="5" fill="#bbb">
<rect x="482" y="1112" width="129" height="156" rx="4" fill="#33335a"/><rect x="482" y="1112" width="129" height="13" rx="4" fill="#29294a"/>
<circle cx="489" cy="1119" r="2" fill="#777"/><text x="495" y="1121.5" font-size="6.3">KSampler (Advanced) - BASE</text>
<circle cx="487" cy="1132" r="1.8" fill="#b39ddb"/><text x="491" y="1134">model</text>
<circle cx="487" cy="1141" r="1.8" fill="#ffa030"/><text x="491" y="1143">positive</text>
<circle cx="487" cy="1150" r="1.8" fill="#ffa030"/><text x="491" y="1152">negative</text>
<circle cx="487" cy="1158" r="1.8" fill="#ff80e0"/><text x="491" y="1160">latent_image</text>
<text x="603" y="1134" text-anchor="end">LATENT</text><circle cx="607" cy="1132" r="1.8" fill="#ff80e0"/>
<g fill="#222" stroke="#555" stroke-width="0.5">
<rect x="489" y="1163" width="115" height="8" rx="4"/><rect x="489" y="1173" width="115" height="8" rx="4"/><rect x="489" y="1184" width="115" height="8" rx="4"/>
<rect x="489" y="1204" width="115" height="8" rx="4"/><rect x="489" y="1215" width="115" height="8" rx="4"/><rect x="489" y="1225" width="115" height="8" rx="4"/><rect x="489" y="1235" width="115" height="8" rx="4"/><rect x="489" y="1256" width="115" height="8" rx="4"/>
</g>
<rect x="489" y="1194" width="115" height="8" rx="4" fill="#2e2e50"/><rect x="489" y="1246" width="115" height="8" rx="4" fill="#2e2e50"/>
<circle cx="487" cy="1198" r="1.6" fill="#7f7"/><circle cx="487" cy="1250" r="1.6" fill="#7f7"/>
<g fill="#ddd"><text x="497" y="1169">add_noise</text><text x="590" y="1169" text-anchor="end">enable</text>
<text x="497" y="1179">noise_seed</text><text x="590" y="1179" text-anchor="end">68010</text>
<text x="497" y="1190">control after generate</text><text x="590" y="1190" text-anchor="end">fixed</text>
<text x="497" y="1210">cfg</text><text x="590" y="1210" text-anchor="end">8.0</text>
<text x="497" y="1221">sampler_name</text><text x="590" y="1221" text-anchor="end">euler</text>
<text x="497" y="1231">scheduler</text><text x="590" y="1231" text-anchor="end">normal</text>
<text x="497" y="1241">start_at_step</text><text x="590" y="1241" text-anchor="end">0</text>
<text x="497" y="1262">return_with_leftover_noise</text><text x="590" y="1262" text-anchor="end">enable</text></g>
<g fill="#666"><text x="497" y="1200">steps</text><text x="590" y="1200" text-anchor="end">25</text><text x="497" y="1252">end_at_step</text><text x="590" y="1252" text-anchor="end">20</text></g>
</g>

<!-- KSampler REFINER -->
<g font-size="5" fill="#bbb">
<rect x="826" y="1069" width="129" height="159" rx="4" fill="#33335a"/><rect x="826" y="1069" width="129" height="13" rx="4" fill="#29294a"/>
<circle cx="833" cy="1076" r="2" fill="#777"/><text x="839" y="1078.5" font-size="6.3">KSampler (Advanced) - REFINER</text>
<circle cx="831" cy="1089" r="1.8" fill="#b39ddb"/><text x="835" y="1091">model</text>
<circle cx="831" cy="1098" r="1.8" fill="#ffa030"/><text x="835" y="1100">positive</text>
<circle cx="831" cy="1107" r="1.8" fill="#ffa030"/><text x="835" y="1109">negative</text>
<circle cx="831" cy="1115" r="1.8" fill="#ff80e0"/><text x="835" y="1117">latent_image</text>
<text x="947" y="1091" text-anchor="end">LATENT</text><circle cx="951" cy="1089" r="1.8" fill="#ff80e0"/>
<g fill="#222" stroke="#555" stroke-width="0.5">
<rect x="833" y="1120" width="115" height="8" rx="4"/><rect x="833" y="1130" width="115" height="8" rx="4"/><rect x="833" y="1141" width="115" height="8" rx="4"/>
<rect x="833" y="1162" width="115" height="8" rx="4"/><rect x="833" y="1172" width="115" height="8" rx="4"/><rect x="833" y="1182" width="115" height="8" rx="4"/><rect x="833" y="1203" width="115" height="8" rx="4"/><rect x="833" y="1213" width="115" height="8" rx="4"/>
</g>
<rect x="833" y="1151" width="115" height="8" rx="4" fill="#2e2e50"/><rect x="833" y="1193" width="115" height="8" rx="4" fill="#2e2e50"/>
<circle cx="831" cy="1155" r="1.6" fill="#7f7"/><circle cx="831" cy="1197" r="1.6" fill="#7f7"/>
<g fill="#ddd"><text x="841" y="1126">add_noise</text><text x="934" y="1126" text-anchor="end">disable</text>
<text x="841" y="1136">noise_seed</text><text x="934" y="1136" text-anchor="end">0</text>
<text x="841" y="1147">control after generate</text><text x="934" y="1147" text-anchor="end">fixed</text>
<text x="841" y="1168">cfg</text><text x="934" y="1168" text-anchor="end">8.0</text>
<text x="841" y="1178">sampler_name</text><text x="934" y="1178" text-anchor="end">euler</text>
<text x="841" y="1188">scheduler</text><text x="934" y="1188" text-anchor="end">normal</text>
<text x="841" y="1209">end_at_step</text><text x="934" y="1209" text-anchor="end">10000</text>
<text x="841" y="1219">return_with_leftover_noise</text><text x="934" y="1219" text-anchor="end">disable</text></g>
<g fill="#666"><text x="841" y="1157">steps</text><text x="934" y="1157" text-anchor="end">25</text><text x="841" y="1199">start_at_step</text><text x="934" y="1199" text-anchor="end">20</text></g>
</g>

<!-- VAE Decode -->
<g font-size="5" fill="#bbb">
<rect x="1007" y="1069" width="98" height="41" rx="4" fill="#4a3328"/><rect x="1007" y="1069" width="98" height="13" rx="4" fill="#3a2a22"/>
<circle cx="1014" cy="1076" r="2" fill="#777"/><text x="1020" y="1078.5" font-size="6.3">VAE Decode</text>
<circle cx="1012" cy="1089" r="1.8" fill="#ff80e0"/><text x="1016" y="1091">samples</text>
<circle cx="1012" cy="1098" r="1.8" fill="#f66"/><text x="1016" y="1100">vae</text>
<text x="1085" y="1091" text-anchor="end">IMAGE</text><circle cx="1089" cy="1089" r="1.8" fill="#64b5f6"/>
<rect x="983" y="1113" width="135" height="70" rx="4" fill="#4a3328"/><rect x="983" y="1113" width="135" height="13" rx="4" fill="#3a2a22"/>
<circle cx="990" cy="1120" r="2" fill="#777"/><text x="996" y="1122.5" font-size="6.3">Note - VAE Decoder</text>
<rect x="987" y="1129" width="127" height="49" fill="#222"/>
<g class="m" font-size="4.1" fill="#ddd"><text x="988" y="1135">This node will take the latent data from the KSampler and,</text><text x="988" y="1140">using the VAE, it will decode it into visible data</text><text x="988" y="1145">VAE = Latent --&gt; Visible</text><text x="988" y="1153">This can then be sent to the Save Image node to be saved as</text><text x="988" y="1158">a PNG.</text></g>
</g>

<!-- Empty Latent -->
<g font-size="5" fill="#bbb">
<rect x="285" y="1293" width="133" height="57" rx="4" fill="#4a3450"/><rect x="285" y="1293" width="133" height="13" rx="4" fill="#35283a"/>
<circle cx="292" cy="1300" r="2" fill="#777"/><text x="298" y="1302.5" font-size="6.3">Empty Latent Image</text>
<text x="409" y="1315" text-anchor="end">LATENT</text><circle cx="413" cy="1313" r="1.8" fill="#ff80e0"/>
<g fill="#222" stroke="#555" stroke-width="0.5"><rect x="292" y="1318" width="115" height="8" rx="4"/><rect x="292" y="1328" width="115" height="8" rx="4"/><rect x="292" y="1339" width="115" height="8" rx="4"/></g>
<g fill="#ddd"><text x="300" y="1324">width</text><text x="393" y="1324" text-anchor="end">1024</text><text x="300" y="1334">height</text><text x="393" y="1334" text-anchor="end">1024</text><text x="300" y="1345">batch_size</text><text x="393" y="1345" text-anchor="end">1</text></g>
<rect x="295" y="1357" width="113" height="103" rx="4" fill="#4a3450"/><rect x="295" y="1357" width="113" height="13" rx="4" fill="#35283a"/>
<circle cx="302" cy="1364" r="2" fill="#777"/><text x="308" y="1366.5" font-size="6.3">Note - Empty Latent Image</text>
<rect x="299" y="1373" width="105" height="82" fill="#222"/>
<g class="m" font-size="4.1" fill="#ddd"><text x="300" y="1380">This node sets the image's resolution in Width</text><text x="300" y="1385">and Height.</text><text x="300" y="1390">NOTE: For SDXL, it is recommended to use</text><text x="300" y="1395">trained values listed below:</text><text x="300" y="1400"> - 1024 x 1024</text><text x="300" y="1405"> - 1152 x 896</text><text x="300" y="1410"> - 896  x 1152</text><text x="300" y="1415"> - 1216 x 832</text><text x="300" y="1420"> - 832  x 1216</text><text x="300" y="1425"> - 1344 x 768</text><text x="300" y="1430"> - 768  x 1344</text><text x="300" y="1435"> - 1536 x 640</text><text x="300" y="1440"> - 640  x 1536</text></g>
</g>

<!-- steps -->
<g font-size="5" fill="#bbb">
<rect x="500" y="1328" width="88" height="48" rx="4" fill="#5e4c33"/><rect x="500" y="1328" width="88" height="13" rx="4" fill="#4a3a25"/>
<circle cx="507" cy="1335" r="2" fill="#777"/><text x="513" y="1337.5" font-size="6.3">steps</text>
<text x="581" y="1350" text-anchor="end">INT</text><circle cx="585" cy="1348" r="1.8" fill="#7f7"/>
<g fill="#222" stroke="#555" stroke-width="0.5"><rect x="505" y="1354" width="78" height="8" rx="4"/><rect x="505" y="1364" width="78" height="8" rx="4"/></g>
<g fill="#ddd"><text x="513" y="1360">value</text><text x="570" y="1360" text-anchor="end">25</text><text x="513" y="1370">control after ge ... </text><text x="570" y="1370" text-anchor="end">fixed</text></g>
</g>

<!-- Note KSampler -->
<g font-size="5" fill="#bbb">
<rect x="855" y="1271" width="193" height="194" rx="4" fill="#33335a"/><rect x="855" y="1271" width="193" height="13" rx="4" fill="#29294a"/>
<circle cx="862" cy="1278" r="2" fill="#777"/><text x="868" y="1280.5" font-size="6.3">Note - KSampler  ADVANCED General Information</text>
<rect x="859" y="1287" width="185" height="174" fill="#222"/>
<g class="m" font-size="4.1" fill="#ddd"><text x="860" y="1294">Here are the settings that SHOULD stay in place if you want this workflow to work</text><text x="860" y="1299">correctly: add_noise: enable = This adds random noise into the picture so the model can</text><text x="860" y="1304">denoise it</text><text x="860" y="1309"> - return_with_leftover_noise: enable = This sends the latent image data and all it's</text><text x="860" y="1314">leftover noise to the next KSampler node.</text><text x="860" y="1319">The settings to pay attention to:</text><text x="860" y="1324"> - control_after_generate = generates a new random seed after each workflow job</text><text x="860" y="1329">completed. steps: This is the amount of iterations you would like to run the positive and</text><text x="860" y="1334">negative CLIP prompts through. Each Step will add (positive) or remove (negative) pixels</text><text x="860" y="1339">based on what stable diffusion "thinks" should be there according to the model's training</text><text x="860" y="1344">- start_at_step: This is the step number the KSampler will start out it's process of</text><text x="860" y="1349">de-noising the picture or "removing the random noise to reveal the picture within".</text><text x="860" y="1354">The first KSampler usually starts with Step 0. Starting at step 0 is the same as setting</text><text x="860" y="1359">the next KSampler (assuming there is another one).</text></g>
</g>

<!-- Save Image -->
<g font-size="5" fill="#bbb">
<rect x="1206" y="1135" width="256" height="295" rx="4" fill="#353535" stroke="#111" stroke-width="0.6"/>
<rect x="1206" y="1135" width="256" height="13" rx="4" fill="#2b2b2b"/>
<circle cx="1213" cy="1142" r="2" fill="#777"/><text x="1219" y="1144.5" font-size="6.3">Save Image</text>
<rect x="1206" y="1149" width="99" height="10" fill="#111"/>
<circle cx="1210" cy="1155" r="1.8" fill="#64b5f6"/><text x="1214" y="1157">images</text>
<rect x="1212" y="1160" width="245" height="8" rx="4" fill="#222" stroke="#555" stroke-width="0.5"/>
<text x="1219" y="1166" fill="#999">filename_prefix</text><text x="1449" y="1166" fill="#ddd" text-anchor="end">ComfyUI</text>
<rect x="1208" y="1170" width="252" height="252" fill="url(#pic)"/>
<path d="M1330 1300 C1290 1260 1240 1220 1215 1190 C1212 1260 1225 1340 1290 1400 C1320 1390 1330 1340 1330 1300Z" fill="url(#wing)" opacity="0.9"/>
<path d="M1345 1300 C1385 1260 1430 1220 1455 1185 C1460 1260 1448 1340 1385 1400 C1355 1390 1345 1340 1345 1300Z" fill="url(#wing)" opacity="0.9"/>
<ellipse cx="1338" cy="1225" rx="33" ry="40" fill="#efe6d6"/>
<ellipse cx="1338" cy="1232" rx="19" ry="26" fill="#e8c4a8"/>
<path d="M1305 1218 C1315 1195 1360 1195 1370 1218 L1360 1212 L1316 1212Z" fill="#c89838"/>
<path d="M1290 1422 C1295 1330 1310 1275 1338 1268 C1366 1275 1381 1330 1386 1422Z" fill="#e8e6ea"/>
<path d="M1315 1290 C1325 1330 1350 1330 1361 1290 L1350 1345 L1326 1345Z" fill="#c8a050" opacity="0.8"/>
<circle cx="1338" cy="1330" r="4" fill="#2a8a8a"/>
<text x="1334" y="1428" font-size="4.5" fill="#999" text-anchor="middle">1024 × 1024</text>
</g>

<!-- WIRES -->
<g fill="none" stroke-width="1.3" stroke-linecap="round">
<path d="M399 49 C440 49 440 100 468 125 C500 165 505 201 537 201" stroke="#9aa89a"/>
<path d="M190 768 C340 760 330 175 537 175" stroke="#b39ddb"/>
<path d="M187 927 C355 910 345 184 537 184" stroke="#b39ddb"/>
<path d="M187 1000 C365 990 355 192 537 192" stroke="#b39ddb"/>
<path d="M701 175 C745 175 745 300 705 310 C600 380 450 620 400 760 C340 850 300 960 353 971" stroke="#b39ddb"/>
<path d="M419 971 C450 975 450 1100 487 1132" stroke="#b39ddb"/>
<path d="M457 771 C600 780 700 1080 831 1089" stroke="#b39ddb"/>
<path d="M457 788 C620 800 760 1060 1012 1098" stroke="#e06060"/>
<path d="M457 779 C510 780 480 970 546 981" stroke="#fd0"/>
<path d="M457 779 C520 790 490 1010 546 1020" stroke="#fd0"/>
<path d="M190 776 C280 780 230 1140 315 1146" stroke="#fd0"/>
<path d="M190 776 C300 790 280 1100 345 1180 C370 1215 370 1243 390 1243" stroke="#fd0"/>
<path d="M229 1091 C350 1080 450 1000 546 993" stroke="#9aa89a"/>
<path d="M229 1091 C270 1100 280 1150 315 1155" stroke="#9aa89a"/>
<path d="M229 1177 C330 1160 460 1040 546 1029" stroke="#9aa89a"/>
<path d="M229 1177 C300 1180 330 1245 390 1251" stroke="#9aa89a"/>
<path d="M470 1146 C478 1146 478 1141 487 1141" stroke="#ffa030"/>
<path d="M470 1243 C490 1243 475 1150 487 1150" stroke="#ffa030"/>
<path d="M631 981 C730 990 740 1090 831 1098" stroke="#ffa030"/>
<path d="M631 1020 C720 1030 760 1100 831 1107" stroke="#ffa030"/>
<path d="M413 1313 C460 1300 450 1165 487 1158" stroke="#ff80e0"/>
<path d="M607 1132 C700 1130 740 1115 831 1115" stroke="#ff80e0"/>
<path d="M951 1089 C980 1089 985 1089 1012 1089" stroke="#ff80e0"/>
<path d="M1089 1089 C1140 1090 1160 1150 1210 1155" stroke="#64b5f6"/>
<path d="M585 1348 C640 1345 670 1270 740 1200 C780 1160 800 1155 831 1155" stroke="#9aa89a"/>
<path d="M585 1348 C630 1360 650 1340 708 1304 C760 1250 790 1200 831 1197" stroke="#9aa89a"/>
<path d="M487 1198 C478 1210 470 1240 550 1320 C600 1370 600 1400 590 1410" stroke="#9aa89a" stroke-width="1.8"/>
<path d="M487 1250 C470 1265 560 1330 590 1360 C600 1380 610 1400 590 1410" stroke="#9aa89a" stroke-width="1.8"/>
</g>
<g>
<circle cx="468" cy="125" r="2" fill="#9aa89a"/>
<circle cx="643" cy="930" r="2" fill="#b39ddb"/><circle cx="453" cy="1052" r="2" fill="#b39ddb"/>
<circle cx="362" cy="470" r="2" fill="#b39ddb"/><circle cx="362" cy="595" r="2" fill="#b39ddb"/><circle cx="527" cy="573" r="2" fill="#b39ddb"/>
<circle cx="734" cy="942" r="2" fill="#e06060"/>
<circle cx="500" cy="880" r="2" fill="#fd0"/><circle cx="505" cy="915" r="2" fill="#fd0"/>
<circle cx="250" cy="960" r="2" fill="#fd0"/><circle cx="289" cy="1009" r="2" fill="#fd0"/>
<circle cx="387" cy="1040" r="2" fill="#9aa89a"/><circle cx="271" cy="1123" r="2" fill="#9aa89a"/><circle cx="314" cy="1190" r="2" fill="#9aa89a"/>
<circle cx="730" cy="1040" r="2" fill="#ffa030"/><circle cx="730" cy="1063" r="2" fill="#ffa030"/>
<circle cx="719" cy="1124" r="2" fill="#ff80e0"/><circle cx="981" cy="1089" r="2" fill="#ff80e0"/>
<circle cx="1150" cy="1122" r="2" fill="#64b5f6"/>
<circle cx="708" cy="1251" r="2" fill="#9aa89a"/><circle cx="708" cy="1304" r="2" fill="#9aa89a"/>
</g>
</svg>
</body></html>
